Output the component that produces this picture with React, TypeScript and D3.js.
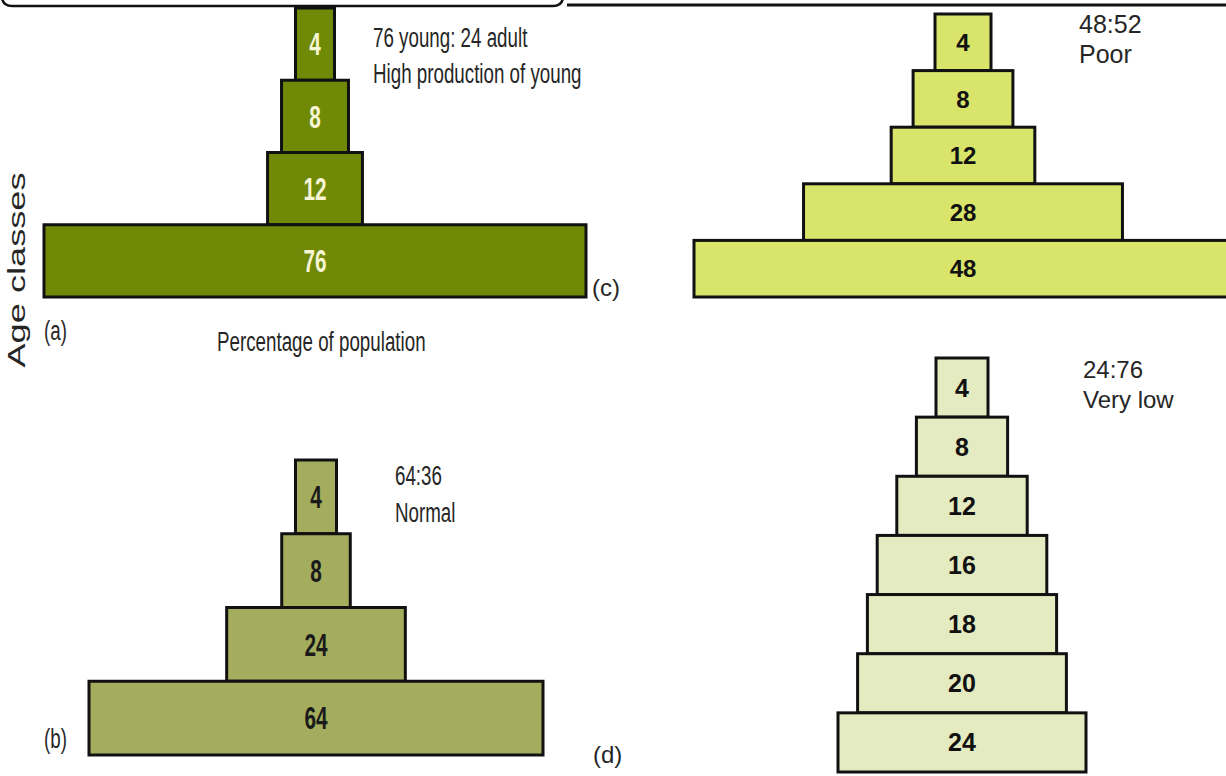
import React, { useEffect, useRef } from "react";
import * as d3 from "d3";

// age-class percentages, top (oldest) to bottom (youngest)
const valuesA = [4, 8, 12, 76];
const valuesB = [4, 8, 24, 64];
const valuesC = [4, 8, 12, 28, 48];
const valuesD = [4, 8, 12, 16, 18, 20, 24];

const notesA = ["76 young: 24 adult", "High production of young"];
const notesB = ["64:36", "Normal"];
const notesC = ["48:52", "Poor"];
const notesD = ["24:76", "Very low"];

const SANS = "'Liberation Sans', Arial, Helvetica, sans-serif";
const NARROW_X = 0.67; // helvetica condensed look for panels a/b

interface Panel {
  values: number[];
  notes: string[];
  cx: number;
  top: number;
  bottom: number;
  wRange: [number, number];
  fill: string;
  textFill: string;
  narrow: boolean;
  fontSize: number;
  noteX: number;
  noteY: number;
  noteGap: number;
  noteSize: number;
}

const panels: Panel[] = [
  {
    values: valuesA, notes: notesA, cx: 315, top: 8, bottom: 297, wRange: [39, 542],
    fill: "#708a08", textFill: "#f6f5d4", narrow: true, fontSize: 31,
    noteX: 373, noteY: 47, noteGap: 36, noteSize: 28,
  },
  {
    values: valuesB, notes: notesB, cx: 316, top: 460, bottom: 755, wRange: [41, 454],
    fill: "#a3ad5d", textFill: "#1a1a1a", narrow: true, fontSize: 31,
    noteX: 395, noteY: 485, noteGap: 37, noteSize: 28,
  },
  {
    values: valuesC, notes: notesC, cx: 963, top: 14, bottom: 297, wRange: [56, 538],
    fill: "#d9e46a", textFill: "#111", narrow: false, fontSize: 24,
    noteX: 1079, noteY: 33, noteGap: 30, noteSize: 25,
  },
  {
    values: valuesD, notes: notesD, cx: 962, top: 358, bottom: 772, wRange: [52, 248],
    fill: "#e5ebc0", textFill: "#111", narrow: false, fontSize: 25,
    noteX: 1083, noteY: 378, noteGap: 30, noteSize: 24,
  },
];

const W = 1226;
const H = 776;

const place = (x: number, y: number, narrow: boolean) =>
  narrow ? `translate(${x},${y}) scale(${NARROW_X},1)` : `translate(${x},${y})`;

const App: React.FC = () => {
  const svgRef = useRef<SVGSVGElement>(null);

  useEffect(() => {
    if (!svgRef.current) return;
    const svg = d3.select(svgRef.current);
    svg.selectAll("*").remove();

    svg.append("rect").attr("width", W).attr("height", H).attr("fill", "#fff");

    // clipped header box and underline at the very top
    svg
      .append("path")
      .attr("d", "M2,-4 Q2,6 12,6 L553,6 Q563,6 563,-4")
      .attr("fill", "none")
      .attr("stroke", "#111")
      .attr("stroke-width", 2.5);
    svg
      .append("line")
      .attr("x1", 567).attr("x2", W)
      .attr("y1", 5).attr("y2", 5)
      .attr("stroke", "#111")
      .attr("stroke-width", 3);

    panels.forEach((p) => {
      const g = svg.append("g");
      const y = d3
        .scaleBand<number>()
        .domain(d3.range(p.values.length))
        .range([p.top, p.bottom])
        .padding(0);
      const w = d3
        .scaleLinear()
        .domain([d3.min(p.values)!, d3.max(p.values)!])
        .range(p.wRange);

      g.selectAll("rect.bar")
        .data(p.values)
        .join("rect")
        .attr("class", "bar")
        .attr("x", (d) => p.cx - w(d) / 2)
        .attr("y", (_, i) => y(i)!)
        .attr("width", (d) => w(d))
        .attr("height", y.bandwidth())
        .attr("fill", p.fill)
        .attr("stroke", "#111")
        .attr("stroke-width", 3);

      g.selectAll("text.val")
        .data(p.values)
        .join("text")
        .attr("class", "val")
        .attr("transform", (_, i) => place(p.cx, y(i)! + y.bandwidth() / 2, p.narrow))
        .attr("dy", "0.36em")
        .attr("text-anchor", "middle")
        .style("font-family", SANS)
        .style("font-size", `${p.fontSize}px`)
        .style("font-weight", "bold")
        .attr("fill", p.textFill)
        .text((d) => d);

      g.selectAll("text.note")
        .data(p.notes)
        .join("text")
        .attr("class", "note")
        .attr("transform", (_, i) => place(p.noteX, p.noteY + i * p.noteGap, p.narrow))
        .style("font-family", SANS)
        .style("font-size", `${p.noteSize}px`)
        .attr("fill", "#262626")
        .text((d) => d);
    });

    // panel letters and axis titles
    const labels = [
      { t: "(a)", x: 44, y: 340, n: true, s: 28 },
      { t: "(c)", x: 592, y: 296, n: false, s: 24 },
      { t: "(b)", x: 44, y: 748, n: true, s: 28 },
      { t: "(d)", x: 593, y: 763, n: false, s: 24 },
      { t: "Percentage of population", x: 217, y: 351, n: true, s: 28 },
    ];
    svg
      .selectAll("text.lbl")
      .data(labels)
      .join("text")
      .attr("class", "lbl")
      .attr("transform", (d) => place(d.x, d.y, d.n))
      .style("font-family", SANS)
      .style("font-size", (d) => `${d.s}px`)
      .attr("fill", "#262626")
      .text((d) => d.t);

    svg
      .append("text")
      .attr("transform", "translate(25,270) rotate(-90)")
      .attr("text-anchor", "middle")
      .style("font-family", SANS)
      .style("font-size", "23px")
      .attr("textLength", 195)
      .attr("lengthAdjust", "spacingAndGlyphs")
      .attr("fill", "#262626")
      .text("Age classes");
  }, []);

  return (
    <div style={{ position: "absolute", top: 0, left: 0, width: W, height: H }}>
      <svg ref={svgRef} width={W} height={H} style={{ display: "block" }}></svg>
    </div>
  );
};

export default App;
